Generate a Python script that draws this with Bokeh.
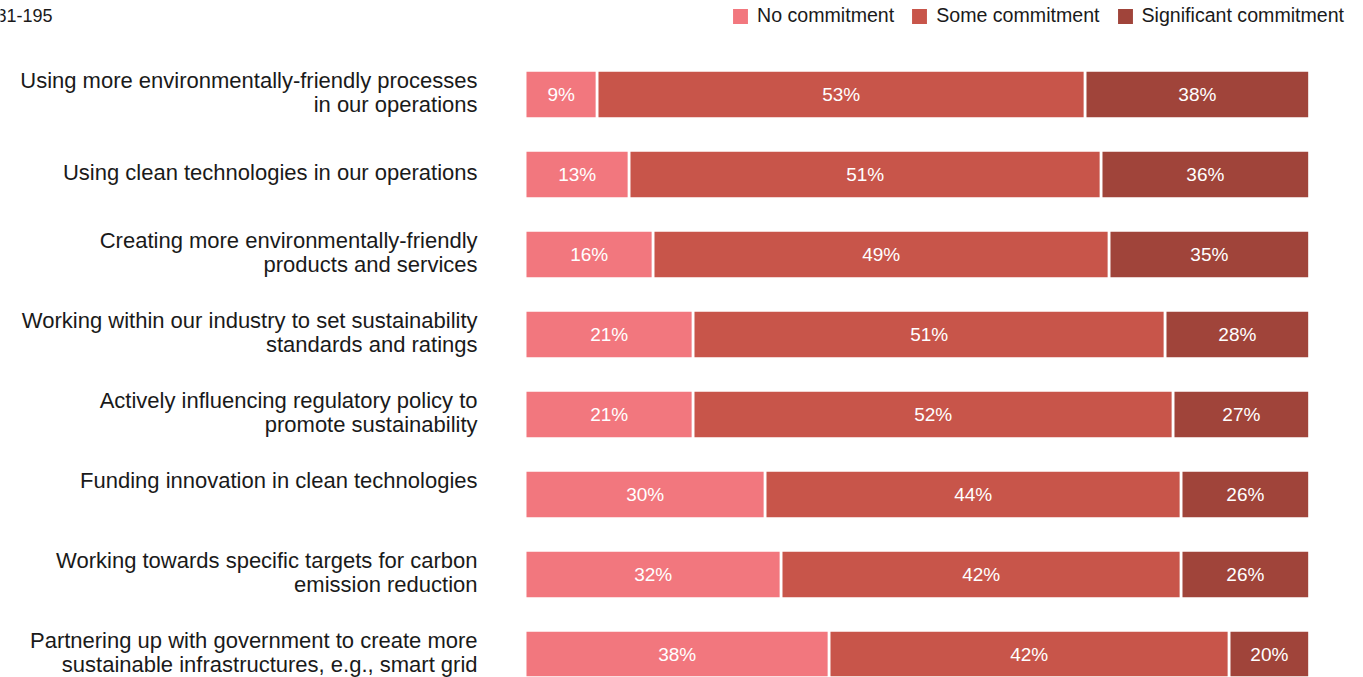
from bokeh.plotting import figure
from bokeh.models import Range1d, ColumnDataSource, Label
from bokeh.core.properties import value
from bokeh.embed import file_html
from bokeh.resources import INLINE

# ---------------- data ----------------
categories = [
    "Using more environmentally-friendly processes\nin our operations",
    "Using clean technologies in our operations",
    "Creating more environmentally-friendly\nproducts and services",
    "Working within our industry to set sustainability\nstandards and ratings",
    "Actively influencing regulatory policy to\npromote sustainability",
    "Funding innovation in clean technologies\n",
    "Working towards specific targets for carbon\nemission reduction",
    "Partnering up with government to create more\nsustainable infrastructures, e.g., smart grid",
]
# printed shares (%)
no_commitment = [9, 13, 16, 21, 21, 30, 32, 38]
some_commitment = [53, 51, 49, 51, 52, 44, 42, 42]
significant_commitment = [38, 36, 35, 28, 27, 26, 26, 20]
# drawn length of the "Some commitment" segment, as it appears in the source chart (%)
some_commitment_drawn = [61, 59, 57, 59, 60, 52, 50, 50]

series_names = ["No commitment", "Some commitment", "Significant commitment"]
sample_note = "n = 181-195"

# ---------------- styling ----------------
FONT = "Liberation Sans"
COLORS = ["#F2777E", "#C8554A", "#A0443A"]
PX_PER_UNIT = 8.0
BAR_START_PX = 524.64
W, H = 1363, 677
X_MIN = -BAR_START_PX / PX_PER_UNIT
X_MAX = X_MIN + W / PX_PER_UNIT
BAR_VISIBLE_END = 98.05       # bars are cut off here in the source chart
LABEL_GAP = 47.6 / PX_PER_UNIT

n = len(categories)
ys = list(range(n))

p = figure(
    width=W, height=H, output_backend="svg", toolbar_location=None,
    x_range=Range1d(X_MIN, X_MAX), y_range=Range1d(7.2875, -1.175),
    x_axis_location=None, y_axis_location=None,
    min_border_left=0, min_border_right=0, min_border_top=0, min_border_bottom=0,
)
p.outline_line_color = None
p.grid.visible = False
p.background_fill_color = "white"
p.border_fill_color = "white"

# segment extents
l0 = [0] * n
r0 = list(no_commitment)
l1 = r0
r1 = [a + b for a, b in zip(r0, some_commitment_drawn)]
l2 = r1
r2 = [min(a + b, BAR_VISIBLE_END) for a, b in zip(r1, significant_commitment)]

segments = [(l0, r0), (l1, r1), (l2, r2)]
for (lft, rgt), col, name in zip(segments, COLORS, series_names):
    src = ColumnDataSource(dict(y=ys, left=lft, right=rgt))
    p.hbar(y="y", left="left", right="right", height=0.6, source=src,
           fill_color=col, line_color="white", line_width=2.7,
           legend_label=name)

# value labels centred on each (visible) segment
lab_x, lab_y, lab_t = [], [], []
for i in range(n):
    for (lft, rgt), vals in zip(segments, [no_commitment, some_commitment, significant_commitment]):
        lab_x.append((lft[i] + rgt[i]) / 2)
        lab_y.append(ys[i])
        lab_t.append(f"{vals[i]}%")
lsrc = ColumnDataSource(dict(x=lab_x, y=lab_y, text=lab_t))
p.text(x="x", y="y", text="text", source=lsrc, text_align="center",
       text_baseline="middle", text_color="white", text_font=value(FONT),
       text_font_size="19px")

# category labels
csrc = ColumnDataSource(dict(x=[-LABEL_GAP] * n, y=ys, text=categories))
p.text(x="x", y="y", text="text", source=csrc, text_align="right",
       text_baseline="middle", text_color="#1a1a1a", text_font=value(FONT),
       text_font_size="22px", text_line_height=0.93, y_offset=-2)

# legend
lg = p.legend[0]
lg.orientation = "horizontal"
lg.location = (729, 650)
lg.padding = 0
lg.margin = 0
lg.spacing = 14
lg.label_standoff = 6
lg.glyph_width = 22
lg.glyph_height = 22
lg.border_line_color = None
lg.background_fill_alpha = 0
lg.label_text_font = FONT
lg.label_text_font_size = "19.6px"
lg.label_text_color = "#1a1a1a"

# sample note (top-left, partially outside the page)
p.add_layout(Label(x=X_MIN + 52 / PX_PER_UNIT, y=-1.175 + 15 / 80, text=sample_note,
                   text_align="right", text_baseline="middle", text_font=FONT,
                   text_font_size="18px", text_color="#1a1a1a"))

open("out.html", "w").write(file_html(p, INLINE))
